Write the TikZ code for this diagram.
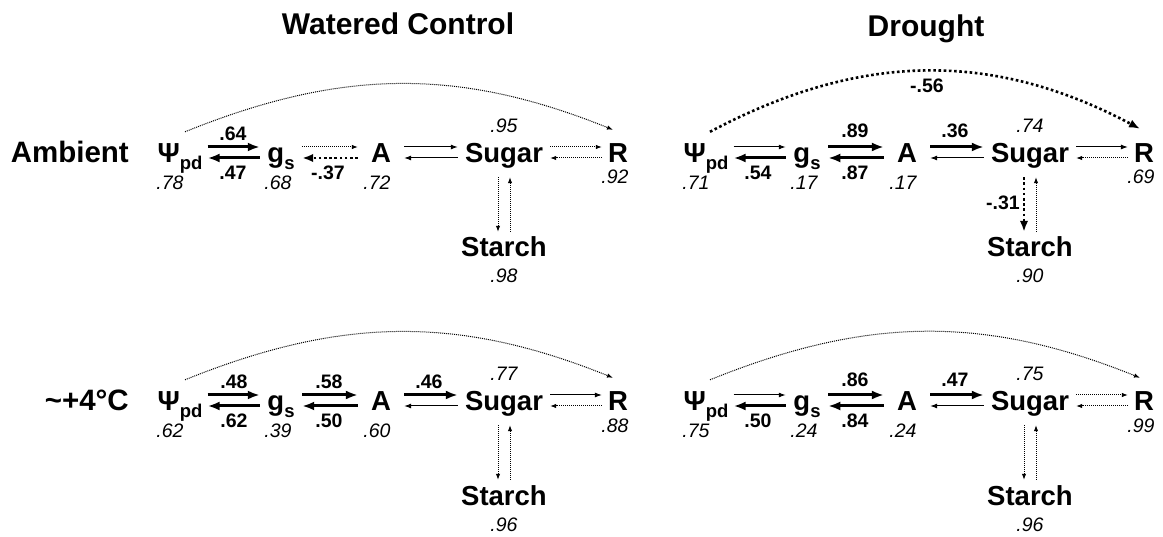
\documentclass[tikz,border=0pt]{standalone}
\usepackage{fontspec}
\setmainfont{Liberation Sans}
\usetikzlibrary{arrows.meta}

% lowered subscript for variable names
\newcommand\subs[1]{\raisebox{-7pt}{\fontsize{18.5}{18.5}\selectfont\bfseries #1}}

% one path diagram: variables plus their R^2 values
\newcommand\mkpanel[7]{%
  \node[var,inner xsep=5pt]   (#1-psi)   at (180,163) {Ψ\subs{pd}};
  \node[var,inner xsep=7.5pt] (#1-gs)    at (281,163) {g\subs{s}};
  \node[var,inner xsep=13pt]  (#1-A)     at (381,163) {A};
  \node[var,inner xsep=7pt]   (#1-sugar) at (504,163) {Sugar};
  \node[var,inner xsep=6pt]   (#1-R)     at (618,163) {R};
  \node[var]                  (#1-starch) at (504,257) {Starch};
  \node[val] (#1-vpsi)    at (170,190) {#2};
  \node[val] (#1-vgs)     at (278,190) {#3};
  \node[val] (#1-vA)      at (377,190) {#4};
  \node[val] (#1-vsugar)  at (504,133) {#5};
  \node[val] (#1-vR)      at (615,184) {#6};
  \node[val] (#1-vstarch) at (504,283) {#7};
}

% paired horizontal paths: upper one runs left to right, lower one right to left
\newcommand\pairR[3]{\draw[#1] ([yshift=5.5pt]#2.east) -- ([yshift=5.5pt]#3.west);}
\newcommand\pairL[3]{\draw[#1] ([yshift=-5.5pt]#3.west) -- ([yshift=-5.5pt]#2.east);}
% paired vertical paths between Sugar and Starch
\newcommand\vdown[3]{\draw[#1,shorten <=14pt,shorten >=4pt] ([xshift=-6pt]#2.south) -- ([xshift=-6pt]#3.north);}
\newcommand\vup[3]{\draw[#1,shorten <=4pt,shorten >=14pt] ([xshift=6pt]#3.north) -- ([xshift=6pt]#2.south);}

\begin{document}
\begin{tikzpicture}[x=1pt,y=-1pt,
  var/.style={font=\fontsize{27.5}{27.5}\selectfont\bfseries, text height=21pt,
    text depth=0pt, inner ysep=0pt, inner xsep=0pt, anchor=base},
  val/.style={font=\fontsize{19.5}{19.5}\selectfont\itshape, inner sep=0pt, anchor=base},
  coef/.style={font=\fontsize{19.5}{19.5}\selectfont\bfseries, inner sep=0pt, anchor=base},
  head/.style={font=\fontsize{30}{30}\selectfont\bfseries, inner sep=0pt, anchor=base},
  rowlab/.style={font=\fontsize{29.5}{29.5}\selectfont\bfseries, inner sep=0pt, anchor=base east},
  solidfine/.style={line width=1pt, -{Latex[length=7pt,width=5pt]}},
  solidbold/.style={line width=3pt, -{Latex[length=12pt,width=9pt]}},
  dotfine/.style={line width=1pt, dash pattern=on 1pt off 1pt, -{Latex[length=6pt,width=4.5pt]}},
  dotbold/.style={line width=2.6pt, dash pattern=on 2.6pt off 2.6pt, -{Latex[length=11pt,width=8.5pt]}}]

\useasboundingbox (0,0) rectangle (1163,537);

% column and row headings
\node[head] (hwc) at (398,35) {Watered Control};
\node[head] (hdr) at (926,37) {Drought};
\node[rowlab] (hamb) at (129,163) {Ambient};
\node[rowlab] (hwarm) at (129,411) {\textasciitilde+4°C};

% watered control, ambient
\begin{scope}
  \mkpanel{wa}{.78}{.68}{.72}{.95}{.92}{.98}
  \pairR{solidbold}{wa-psi}{wa-gs}
  \pairL{solidbold}{wa-psi}{wa-gs}
  \pairR{dotfine}{wa-gs}{wa-A}
  \pairL{dotbold}{wa-gs}{wa-A}
  \pairR{solidfine}{wa-A}{wa-sugar}
  \pairL{solidfine}{wa-A}{wa-sugar}
  \pairR{dotfine}{wa-sugar}{wa-R}
  \pairL{dotfine}{wa-sugar}{wa-R}
  \vdown{dotfine}{wa-sugar}{wa-starch}
  \vup{dotfine}{wa-sugar}{wa-starch}
  \draw[dotfine] ([xshift=5pt,yshift=10pt]wa-psi.north) to[out=22,in=158] ([xshift=-5pt,yshift=12pt]wa-R.north);
  \node[coef] (wa-c1) at (233,141) {.64};
  \node[coef] (wa-c2) at (233,180) {.47};
  \node[coef] (wa-c3) at (328,180) {-.37};
\end{scope}

% watered control, warmed
\begin{scope}[shift={(0,248)}]
  \mkpanel{ww}{.62}{.39}{.60}{.77}{.88}{.96}
  \pairR{solidbold}{ww-psi}{ww-gs}
  \pairL{solidbold}{ww-psi}{ww-gs}
  \pairR{solidbold}{ww-gs}{ww-A}
  \pairL{solidbold}{ww-gs}{ww-A}
  \pairR{solidbold}{ww-A}{ww-sugar}
  \pairL{solidfine}{ww-A}{ww-sugar}
  \pairR{solidfine}{ww-sugar}{ww-R}
  \pairL{dotfine}{ww-sugar}{ww-R}
  \vdown{dotfine}{ww-sugar}{ww-starch}
  \vup{dotfine}{ww-sugar}{ww-starch}
  \draw[dotfine] ([xshift=5pt,yshift=10pt]ww-psi.north) to[out=22,in=158] ([xshift=-5pt,yshift=12pt]ww-R.north);
  \node[coef] (ww-c1) at (234,141) {.48};
  \node[coef] (ww-c2) at (234,180) {.62};
  \node[coef] (ww-c3) at (329,141) {.58};
  \node[coef] (ww-c4) at (329,180) {.50};
  \node[coef] (ww-c5) at (429,141) {.46};
\end{scope}

% drought, ambient
\begin{scope}[shift={(526,0)}]
  \mkpanel{da}{.71}{.17}{.17}{.74}{.69}{.90}
  \pairR{solidfine}{da-psi}{da-gs}
  \pairL{solidbold}{da-psi}{da-gs}
  \pairR{solidbold}{da-gs}{da-A}
  \pairL{solidbold}{da-gs}{da-A}
  \pairR{solidbold}{da-A}{da-sugar}
  \pairL{solidfine}{da-A}{da-sugar}
  \pairR{solidfine}{da-sugar}{da-R}
  \pairL{dotfine}{da-sugar}{da-R}
  \vdown{dotbold}{da-sugar}{da-starch}
  \vup{dotfine}{da-sugar}{da-starch}
  \draw[dotbold] ([xshift=4pt,yshift=10pt]da-psi.north) to[out=28,in=152] ([xshift=-4pt,yshift=13pt]da-R.north);
  \node[coef] (da-c1) at (232,180) {.54};
  \node[coef] (da-c2) at (329,138) {.89};
  \node[coef] (da-c3) at (329,180) {.87};
  \node[coef] (da-c4) at (429,138) {.36};
  \node[coef] (da-c5) at (477,210) {-.31};
  \node[coef] (da-c6) at (401,93) {-.56};
\end{scope}

% drought, warmed
\begin{scope}[shift={(526,248)}]
  \mkpanel{dw}{.75}{.24}{.24}{.75}{.99}{.96}
  \pairR{solidfine}{dw-psi}{dw-gs}
  \pairL{solidbold}{dw-psi}{dw-gs}
  \pairR{solidbold}{dw-gs}{dw-A}
  \pairL{solidbold}{dw-gs}{dw-A}
  \pairR{solidbold}{dw-A}{dw-sugar}
  \pairL{solidfine}{dw-A}{dw-sugar}
  \pairR{dotfine}{dw-sugar}{dw-R}
  \pairL{dotfine}{dw-sugar}{dw-R}
  \vdown{dotfine}{dw-sugar}{dw-starch}
  \vup{dotfine}{dw-sugar}{dw-starch}
  \draw[dotfine] ([xshift=4pt,yshift=10pt]dw-psi.north) to[out=22,in=158] ([xshift=-4pt,yshift=12pt]dw-R.north);
  \node[coef] (dw-c1) at (232,180) {.50};
  \node[coef] (dw-c2) at (329,139) {.86};
  \node[coef] (dw-c3) at (329,180) {.84};
  \node[coef] (dw-c4) at (429,139) {.47};
\end{scope}
\end{tikzpicture}
\end{document}
